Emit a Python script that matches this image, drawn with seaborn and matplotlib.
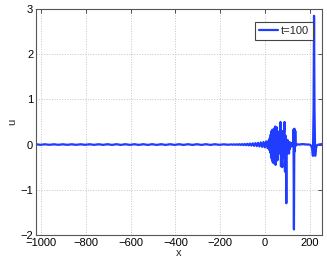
import numpy as np
import pandas as pd
import matplotlib
matplotlib.use("Agg")
import matplotlib.pyplot as plt
import seaborn as sns

# far field: small ripple around zero
x_far = [-1024, -1004, -984, -964, -944, -924, -904, -884, -864, -844, -824, -804,
         -784, -764, -744, -724, -704, -684, -664, -644, -624, -604, -584, -564,
         -544, -524, -504, -484, -464, -444, -424, -404, -384, -364, -344, -324,
         -304, -284, -264, -244, -224, -204, -184, -164]
u_far = [0.006, -0.006, 0.006, -0.006, 0.006, -0.006, 0.006, -0.006, 0.006, -0.006, 0.006, -0.006,
         0.007, -0.007, 0.007, -0.007, 0.008, -0.008, 0.008, -0.008, 0.008, -0.008, 0.008, -0.008,
         0.008, -0.008, 0.008, -0.008, 0.008, -0.008, 0.008, -0.008, 0.008, -0.008, 0.008, -0.008,
         0.008, -0.008, 0.008, -0.008, 0.007, -0.006, 0.005, -0.004]

# growing tail before the dispersive packet
x_near = [-150, -144, -138, -132, -126, -120, -114, -108, -102, -96, -90, -84, -78, -72,
          -66, -60, -54, -48, -42, -36, -30, -24, -18, -12, -6, 0, 6, 12, 18]
u_near = [0.003, -0.003, 0.004, -0.005, 0.006, -0.007, 0.008, -0.009, 0.01, -0.012, 0.013, -0.015,
          0.017, -0.019, 0.021, -0.023, 0.026, -0.029, 0.032, -0.035, 0.039, -0.043, 0.047, -0.052,
          0.057, -0.063, 0.07, -0.08, 0.1]

# dispersive packet
x_mid = [20, 22, 24, 26, 28, 30, 32, 34, 36, 38, 40, 42, 44, 46, 48, 50, 52, 54, 56, 58,
         60, 62, 64, 66, 68, 70, 72, 74, 76, 78, 80, 82, 84, 86, 88, 90, 92, 94, 96, 98,
         100, 102, 104, 106, 108, 110, 112, 114, 116, 118, 120, 122, 124, 126, 128, 130,
         132, 134, 136, 138, 140]
u_mid = [-0.12, 0.14, -0.18, 0.22, -0.29, 0.3, -0.35, 0.33, -0.4, 0.28, -0.38, 0.36, -0.43, 0.4,
         -0.45, 0.3, -0.3, 0.38, -0.35, 0.2, -0.15, 0.2, -0.1, 0.3, -0.2, 0.5, -0.48, 0.1,
         -0.3, -0.5, 0.3, -0.3, 0.2, 0.3, 0.5, -0.6, 0.2, -0.2, -1.3, 0.05, -0.2, 0.1, -0.15,
         0.05, -0.2, 0.05, -0.1, 0.04, -0.05, 0.03, -0.03, 0.02, -0.02, 0.05, 0.33, -1.88,
         0.35, -0.15, 0.3, -0.03, 0.01]

# soliton
x_sol = [150, 170, 190, 200, 208, 212, 215, 218, 220, 222, 225, 228, 232, 240, 256]
u_sol = [0.0, 0.01, 0.0, 0.0, -0.03, -0.1, -0.25, 0.8, 2.85, 0.8, -0.25, -0.1, -0.02, 0.0, 0.01]

df = pd.DataFrame({"x": x_far + x_near + x_mid + x_sol,
                   "u": u_far + u_near + u_mid + u_sol})

sns.set_style("white")
plt.rcParams["font.family"] = ["Liberation Sans", "DejaVu Sans"]
plt.rcParams["font.size"] = 8

fig = plt.figure(figsize=(3.27, 2.66), dpi=100)
ax = fig.add_axes([0.110, 0.117, 0.875, 0.849])

sns.lineplot(data=df, x="x", y="u", sort=False, estimator=None, color="#1f3cff",
             linewidth=1.6, label="t=100", ax=ax)

ax.set_xlim(-1024, 256)
ax.set_ylim(-2, 3)
ax.set_xticks([-1000, -800, -600, -400, -200, 0, 200])
ax.set_yticks([-2, -1, 0, 1, 2, 3])
ax.grid(True, linestyle=":", color="#c4c4c4", linewidth=0.7)
ax.tick_params(direction="in", top=True, right=True, length=3, width=0.6,
               labelsize=8, pad=2, colors="#333333", labelcolor="black")
for s in ax.spines.values():
    s.set_color("#555555")
    s.set_linewidth(0.8)
ax.set_xlabel("x", labelpad=0)
ax.set_ylabel("u", labelpad=2)

leg = ax.legend(loc="upper right", bbox_to_anchor=(0.9685, 0.9425), borderaxespad=0,
                fancybox=False, framealpha=1, edgecolor="#444444", fontsize=8,
                handlelength=1.7, handletextpad=0.3, borderpad=0.35)
leg.get_frame().set_linewidth(0.8)

fig.savefig("out.png", dpi=100)
